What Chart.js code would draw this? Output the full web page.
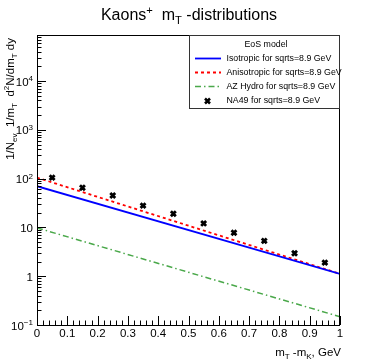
<!DOCTYPE html>
<html>
<head>
<meta charset="utf-8">
<script src="https://cdn.jsdelivr.net/npm/chart.js@4/dist/chart.umd.min.js"></script>
<style>
  html, body { margin: 0; padding: 0; background: #fff; }
  #wrap { width: 378px; height: 363px; }
</style>
</head>
<body>
<div id="wrap"><canvas id="c" width="378" height="363"></canvas></div>
<script>
// data
const isoX = [0, 1];
const isoY = [70, 1.11];
const anisoX = [0, 1];
const anisoY = [105, 1.12];
const hydroX = [0, 1];
const hydroY = [9.8, 0.148];
const na49X = [0.05, 0.15, 0.25, 0.35, 0.45, 0.55, 0.65, 0.75, 0.85, 0.95];
const na49Y = [105, 65, 45, 28, 19, 12.1, 7.8, 5.3, 2.95, 1.9];

const xTicks = [0, 0.1, 0.2, 0.3, 0.4, 0.5, 0.6, 0.7, 0.8, 0.9, 1];
const xTickLabels = ['0', '0.1', '0.2', '0.3', '0.4', '0.5', '0.6', '0.7', '0.8', '0.9', '1'];
const yTicks = [0.1, 1, 10, 100, 1000, 10000];
const yTickLabels = [['10', '\u22121'], ['1', ''], ['10', ''], ['10', '2'], ['10', '3'], ['10', '4']];

const legendLabels = ['Isotropic for sqrts=8.9 GeV', 'Anisotropic for sqrts=8.9 GeV',
  'AZ Hydro for sqrts=8.9 GeV', 'NA49 for sqrts=8.9 GeV'];

const FONT = '"Liberation Sans", Arial, sans-serif';

const toPts = (xs, ys) => xs.map((x, i) => ({x: x, y: ys[i]}));

// pieces: [text, mode] mode: 0 normal, 1 sub, 2 sup
function richWidth(ctx, parts, size) {
    let w = 0;
    parts.forEach(p => {
        ctx.font = (p[1] ? size * 0.7 : size) + 'px ' + FONT;
        w += ctx.measureText(p[0]).width;
    });
    return w;
}
function drawRich(ctx, parts, x, y, size) {
    ctx.textBaseline = 'alphabetic';
    ctx.textAlign = 'left';
    parts.forEach(p => {
        const s = p[1] ? size * 0.7 : size;
        ctx.font = s + 'px ' + FONT;
        let dy = 0;
        if (p[1] === 1) dy = size * 0.25;
        if (p[1] === 2) dy = -size * 0.4;
        ctx.fillText(p[0], x, y + dy);
        x += ctx.measureText(p[0]).width;
    });
}

const rootLook = {
    id: 'rootLook',
    afterDraw(chart) {
        const ctx = chart.ctx;
        const a = chart.chartArea;
        const xs = chart.scales.x, ys = chart.scales.y;
        ctx.save();
        ctx.strokeStyle = '#000';
        ctx.fillStyle = '#000';
        ctx.lineWidth = 1;

        // frame
        ctx.strokeRect(a.left + 0.5, a.top + 0.5, a.right - a.left - 1, a.bottom - a.top);

        // x ticks (inside, bottom)
        ctx.beginPath();
        for (let i = 0; i <= 50; i++) {
            const v = i / 50;
            const px = Math.round(xs.getPixelForValue(v)) + 0.5;
            const len = (i % 5 === 0) ? 9 : 4.5;
            ctx.moveTo(px, a.bottom);
            ctx.lineTo(px, a.bottom - len);
        }
        // y ticks (log, inside, left)
        for (let d = -1; d <= 4; d++) {
            for (let m = 1; m <= 9; m++) {
                const v = m * Math.pow(10, d);
                if (v > ys.max) continue;
                const py = Math.round(ys.getPixelForValue(v)) + 0.5;
                const len = (m === 1) ? 9 : 4.5;
                ctx.moveTo(a.left, py);
                ctx.lineTo(a.left + len, py);
            }
        }
        ctx.stroke();

        // x tick labels
        ctx.font = '11.5px ' + FONT;
        ctx.textAlign = 'center';
        ctx.textBaseline = 'top';
        xTicks.forEach((v, i) => {
            ctx.fillText(xTickLabels[i], xs.getPixelForValue(v), a.bottom + 3);
        });

        // y tick labels
        yTicks.forEach((v, i) => {
            const lab = yTickLabels[i];
            const parts = [[lab[0], 0]];
            if (lab[1]) parts.push([lab[1], 2]);
            const w = richWidth(ctx, parts, 11.5);
            drawRich(ctx, parts, 33 - w, ys.getPixelForValue(v) + 4.5, 11.5);
        });

        // title
        const tparts = [['Kaons', 0], ['+', 2], ['  m', 0], ['T', 1], [' -distributions', 0]];
        const tw = richWidth(ctx, tparts, 16);
        drawRich(ctx, tparts, 189 - tw / 2, 20, 16);

        // x title
        const xparts = [['m', 0], ['T', 1], [' -m', 0], ['K', 1], [', GeV', 0]];
        const xw = richWidth(ctx, xparts, 11.5);
        drawRich(ctx, xparts, 341 - xw, 356, 11.5);

        // y title, rotated, aligned to the top end
        const yparts = [['1/N', 0], ['ev', 1], ['  1/m', 0], ['T', 1], ['  d', 0], ['2', 2],
            ['N/dm', 0], ['T', 1], [' dy', 0]];
        const yw = richWidth(ctx, yparts, 11.5);
        ctx.save();
        ctx.translate(14, 38);
        ctx.rotate(-Math.PI / 2);
        drawRich(ctx, yparts, -yw, 0, 11.5);
        ctx.restore();

        // legend box
        const lx = 189, ly = 35, lw = 151, lh = 73;
        ctx.fillStyle = '#fff';
        ctx.fillRect(lx, ly, lw, lh);
        ctx.strokeStyle = '#333';
        ctx.strokeRect(lx + 0.5, ly + 0.5, lw - 1, lh);
        ctx.fillStyle = '#000';
        ctx.font = '8.8px ' + FONT;
        ctx.textAlign = 'center';
        ctx.textBaseline = 'middle';
        ctx.fillText('EoS model', 266, 44.5);
        const rowY = [58.5, 72.5, 86.5, 101];
        chart.data.datasets.forEach((ds, i) => {
            const y = rowY[i];
            if (ds.showLine) {
                ctx.save();
                ctx.strokeStyle = ds.borderColor;
                ctx.lineWidth = ds.borderWidth;
                ctx.setLineDash(ds.borderDash || []);
                ctx.beginPath();
                ctx.moveTo(195, y);
                ctx.lineTo(221, y);
                ctx.stroke();
                ctx.restore();
            } else {
                ctx.save();
                ctx.strokeStyle = '#000';
                ctx.lineWidth = 2.5;
                ctx.beginPath();
                ctx.moveTo(205, y - 2.5); ctx.lineTo(210, y + 2.5);
                ctx.moveTo(210, y - 2.5); ctx.lineTo(205, y + 2.5);
                ctx.stroke();
                ctx.restore();
            }
            ctx.fillStyle = '#000';
            ctx.textAlign = 'left';
            ctx.font = '8.8px ' + FONT;
            ctx.fillText(legendLabels[i], 226.5, y);
        });
        ctx.restore();
    }
};

new Chart(document.getElementById('c'), {
    type: 'scatter',
    data: {
        datasets: [
            {
                data: toPts(isoX, isoY), showLine: true, borderColor: '#0000ff',
                borderWidth: 1.8, pointRadius: 0
            },
            {
                data: toPts(anisoX, anisoY), showLine: true, borderColor: '#ff0000',
                borderWidth: 1.8, borderDash: [3, 3], pointRadius: 0
            },
            {
                data: toPts(hydroX, hydroY), showLine: true, borderColor: '#4aa84a',
                borderWidth: 1.5, borderDash: [6, 3, 1.5, 3], pointRadius: 0
            },
            {
                data: toPts(na49X, na49Y), showLine: false, pointStyle: 'crossRot',
                pointRadius: 3.5, pointBorderWidth: 2.8, borderColor: '#000',
                backgroundColor: '#000'
            }
        ]
    },
    options: {
        responsive: false,
        animation: false,
        layout: { padding: { left: 37, right: 38, top: 35, bottom: 38 } },
        scales: {
            x: { type: 'linear', min: 0, max: 1, display: false },
            y: { type: 'logarithmic', min: 0.1, max: 88000, display: false }
        },
        plugins: {
            legend: { display: false },
            tooltip: { enabled: false }
        }
    },
    plugins: [rootLook]
});
</script>
</body>
</html>
